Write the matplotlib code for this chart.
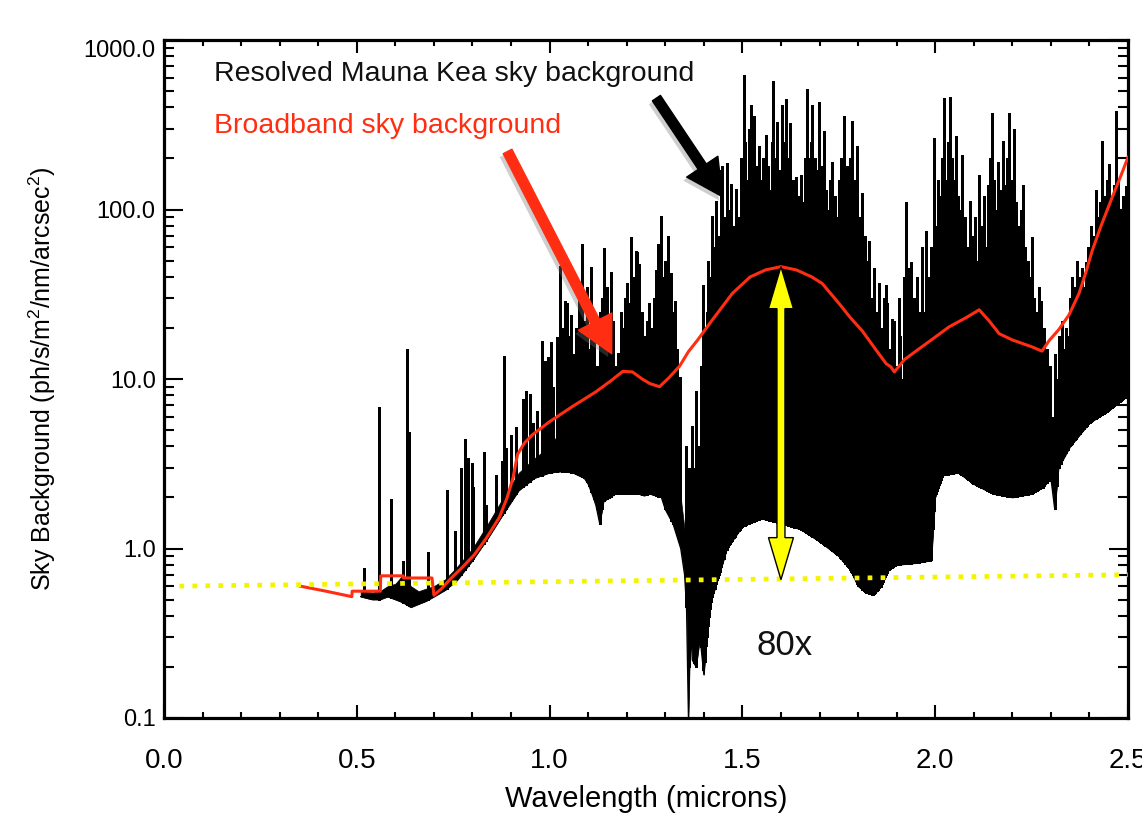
import numpy as np
import matplotlib.pyplot as plt
import matplotlib.patheffects as pe
from matplotlib.patches import FancyArrowPatch, Polygon
from matplotlib.ticker import MultipleLocator, LogLocator, NullFormatter
from matplotlib.transforms import IdentityTransform

plt.rcParams['font.family'] = ['Liberation Sans', 'DejaVu Sans']
plt.rcParams['mathtext.fontset'] = 'custom'
plt.rcParams['mathtext.rm'] = 'Liberation Sans'
plt.rcParams['mathtext.it'] = 'Liberation Sans:italic'

# resolved sky spectrum: lower envelope and top of the blended part
sky_wl = [0.51, 0.54, 0.56, 0.58, 0.60, 0.62, 0.64, 0.66, 0.68, 0.70, 0.73, 0.76, 0.80, 0.84,
          0.88, 0.92, 0.96, 1.00, 1.03, 1.06, 1.09, 1.10, 1.11, 1.12, 1.13, 1.14, 1.17, 1.20,
          1.23, 1.245, 1.26, 1.29, 1.30, 1.32, 1.34, 1.35, 1.355, 1.36, 1.365, 1.37, 1.38,
          1.39, 1.40, 1.41, 1.42, 1.44, 1.46, 1.50, 1.55, 1.60, 1.65, 1.70, 1.75, 1.78, 1.80,
          1.82, 1.84, 1.86, 1.88, 1.90, 1.95, 1.99, 2.00, 2.02, 2.06, 2.10, 2.15, 2.20, 2.25,
          2.28, 2.30, 2.31, 2.32, 2.35, 2.40, 2.45, 2.50]
sky_lo = [0.52, 0.50, 0.50, 0.52, 0.50, 0.48, 0.45, 0.47, 0.49, 0.52, 0.57, 0.65, 0.85, 1.15,
          1.6, 2.2, 2.6, 2.8, 2.85, 2.8, 2.6, 2.4, 2.1, 1.8, 1.4, 1.9, 2.1, 2.1,
          2.1, 2.05, 2.1, 2.0, 1.7, 1.4, 1.0, 0.7, 0.45, 0.1, 0.35, 0.22, 0.2,
          0.3, 0.18, 0.35, 0.5, 0.7, 1.0, 1.35, 1.5, 1.4, 1.3, 1.1, 0.9, 0.75, 0.6,
          0.55, 0.53, 0.6, 0.75, 0.8, 0.82, 0.85, 2.0, 2.7, 2.8, 2.4, 2.1, 2.0, 2.1,
          2.3, 2.6, 1.7, 3.0, 4.0, 5.5, 6.5, 8.0]
sky_hi = [0.56, 0.55, 0.56, 0.60, 0.62, 0.70, 0.60, 0.56, 0.58, 0.60, 0.66, 0.78, 1.0, 1.4,
          2.0, 2.8, 3.4, 4.0, 5.0, 5.0, 4.5, 4.0, 3.0, 2.5, 2.2, 3.5, 4.0, 4.0,
          4.0, 2.8, 4.0, 5.0, 4.0, 3.0, 2.0, 1.3, 0.9, 0.7, 0.7, 0.7, 0.9,
          1.1, 1.6, 2.2, 3.0, 4.0, 6.0, 8.0, 10.0, 10.0, 9.0, 6.0, 4.0, 3.0, 2.5,
          2.0, 1.8, 1.8, 2.0, 2.0, 2.0, 1.8, 4.0, 6.0, 7.0, 6.0, 5.0, 4.0, 3.5,
          3.5, 3.8, 2.5, 5.0, 8.0, 12.0, 16.0, 20.0]

# strong emission lines (wavelength, peak)
line_wl = [0.518, 0.557, 0.588, 0.620, 0.630, 0.635, 0.684, 0.733, 0.754, 0.769, 0.780, 0.788,
           0.798, 0.802, 0.829, 0.834, 0.862, 0.877, 0.881, 0.888, 0.900, 0.914, 0.930, 0.938,
           0.948, 0.958, 0.968, 0.979, 0.987, 0.995,
           1.003, 1.010, 1.018, 1.020, 1.028, 1.033, 1.039, 1.044, 1.050, 1.056, 1.062, 1.068,
           1.075, 1.083, 1.085, 1.090, 1.096, 1.102, 1.108, 1.115, 1.122, 1.130, 1.136, 1.142,
           1.148, 1.153, 1.158, 1.165, 1.170, 1.177, 1.185, 1.190, 1.196, 1.202, 1.207, 1.212,
           1.218, 1.223, 1.226, 1.233, 1.240, 1.247, 1.253, 1.259, 1.265, 1.270, 1.277, 1.282,
           1.285, 1.290, 1.296, 1.300, 1.306, 1.311, 1.316, 1.320, 1.324, 1.330, 1.337,
           1.355, 1.362, 1.368, 1.375, 1.380, 1.388, 1.393, 1.399, 1.405, 1.410, 1.416, 1.422,
           1.428, 1.432, 1.437, 1.445, 1.448, 1.453, 1.459, 1.465, 1.470, 1.477, 1.484, 1.490,
           1.496,
           1.503, 1.508, 1.513, 1.518, 1.523, 1.527, 1.531, 1.536, 1.542, 1.548, 1.553, 1.558,
           1.562, 1.567, 1.572, 1.576, 1.580, 1.585, 1.590, 1.596, 1.603, 1.608, 1.613, 1.618,
           1.624, 1.630, 1.635, 1.640, 1.646, 1.652, 1.657, 1.662, 1.668, 1.673, 1.677, 1.681,
           1.687, 1.693, 1.699, 1.705, 1.712, 1.718, 1.724, 1.728, 1.733, 1.740, 1.745, 1.750,
           1.757, 1.764, 1.770, 1.775, 1.780, 1.785, 1.790, 1.798, 1.804, 1.811, 1.818, 1.823,
           1.829, 1.835, 1.842, 1.848, 1.855, 1.862, 1.868, 1.873, 1.876, 1.882, 1.889, 1.894,
           1.900, 1.905, 1.910, 1.918, 1.925, 1.930, 1.938, 1.945, 1.952, 1.958, 1.966, 1.976,
           1.982, 1.990, 1.997, 2.003, 2.008, 2.012, 2.018, 2.023, 2.028, 2.033, 2.039, 2.044,
           2.050, 2.055, 2.060, 2.065, 2.070, 2.076, 2.082, 2.090, 2.096, 2.102, 2.108, 2.114,
           2.120, 2.126, 2.131, 2.137, 2.142, 2.148, 2.153, 2.158, 2.163, 2.170, 2.176, 2.182,
           2.187, 2.192, 2.198, 2.205, 2.210, 2.216, 2.222, 2.228, 2.234, 2.240, 2.245, 2.251,
           2.257, 2.263, 2.270, 2.275, 2.282, 2.290, 2.298,
           2.310, 2.320, 2.330, 2.340, 2.350, 2.355, 2.362, 2.368, 2.375, 2.382, 2.390, 2.397,
           2.405, 2.410, 2.417, 2.422, 2.428, 2.433, 2.440, 2.445, 2.451, 2.458, 2.464, 2.469,
           2.475, 2.482, 2.488, 2.495]
line_peak = [0.77, 6.8, 1.95, 0.84, 15.0, 4.9, 0.96, 2.2, 1.26, 3.0, 4.4, 3.4,
             3.2, 2.3, 3.7, 1.8, 2.7, 3.3, 13.7, 3.9, 4.7, 5.2, 7.6, 8.5,
             8.2, 5.5, 6.5, 16.8, 12.8, 13.5,
             16.5, 9, 17.7, 15.5, 46.6, 20, 29, 28, 18, 24, 14, 20,
             30, 63, 50, 22, 35, 15, 46, 20, 12, 25, 30, 59,
             35, 18, 43, 22, 12, 14.3, 25, 20, 30, 37, 28, 69,
             40, 57, 56, 48, 25, 18, 22, 28, 20, 30, 44, 63,
             60, 91, 40, 50, 70, 35, 42, 25, 29, 15, 10.3,
             4, 3, 5.3, 3, 8.5, 4, 12, 36, 20, 50, 30, 91,
             60, 113, 70, 172, 180, 90, 188, 100, 142, 80, 133, 90,
             200,
             620, 250, 150, 300, 415, 200, 355, 180, 238, 150, 200, 120,
             275, 180, 130, 250, 570, 200, 330, 170, 415, 250, 450, 200,
             324, 150, 100, 155, 120, 160, 110, 200, 515, 200, 250, 415,
             200, 170, 430, 180, 290, 130, 100, 150, 190, 120, 90, 150,
             200, 355, 180, 120, 200, 335, 150, 238, 90, 125, 70, 50,
             65, 30, 45, 25, 37, 20, 30, 36, 28, 15, 22.6, 22,
             12, 30, 18, 40, 110, 45, 49, 30, 40, 25, 60, 75,
             40, 60, 265, 80, 150, 120, 200, 455, 150, 250, 460, 200,
             150, 270, 120, 100, 210, 90, 60, 113, 70, 90, 50, 160,
             80, 120, 60, 140, 200, 370, 150, 100, 190, 130, 253, 140,
             200, 370, 150, 300, 110, 80, 100, 140, 60, 50, 40, 69,
             30, 25, 35, 29, 20, 15, 12,
             14, 18, 22, 20, 30, 40, 35, 50, 40, 45, 49, 60,
             80, 70, 130, 90, 110, 253, 120, 150, 185, 120, 140, 380,
             150, 98, 120, 137]

# weaker lines filling the H and K bands
weak_wl = [1.402, 1.407, 1.413, 1.419, 1.425, 1.430, 1.435, 1.440, 1.442, 1.451, 1.456, 1.462,
           1.468, 1.473, 1.480, 1.487, 1.493, 1.499,
           1.5055, 1.5105, 1.5155, 1.5205, 1.525, 1.529, 1.5335, 1.539, 1.545, 1.5505, 1.5555,
           1.560, 1.5645, 1.5695, 1.574, 1.578, 1.5825, 1.5875, 1.593, 1.5995, 1.6055, 1.6105,
           1.6155, 1.621, 1.627, 1.6325, 1.6375, 1.643, 1.649, 1.6545, 1.6595, 1.665, 1.6705,
           1.675, 1.679, 1.684, 1.690, 1.696, 1.702, 1.7085, 1.715, 1.721, 1.726, 1.7305,
           1.7365, 1.7425, 1.7475, 1.7535, 1.7605, 1.767, 1.7725, 1.7775, 1.7825, 1.7875, 1.794,
           1.801, 1.8075, 1.8145, 1.8205, 1.826, 1.832, 1.8385, 1.845, 1.8515, 1.8585, 1.865,
           1.8705, 1.879, 1.885, 1.8915, 1.897,
           1.903, 1.908, 1.914, 1.921, 1.928, 1.934, 1.941, 1.948, 1.955, 1.962, 1.971, 1.979,
           1.986, 1.994,
           2.0055, 2.0105, 2.015, 2.0205, 2.0255, 2.0305, 2.036, 2.0415, 2.047, 2.0525, 2.0575,
           2.0625, 2.0675, 2.073, 2.079, 2.086, 2.093, 2.099, 2.105, 2.111, 2.117, 2.123,
           2.1285, 2.134, 2.1395, 2.145, 2.1505, 2.1555, 2.1605, 2.1665, 2.173, 2.179, 2.1845,
           2.1895, 2.195, 2.2015, 2.2075, 2.213, 2.219, 2.225, 2.231, 2.237, 2.2425, 2.248,
           2.254, 2.260, 2.2665, 2.2725, 2.2785, 2.286, 2.294,
           2.305, 2.315, 2.325, 2.335, 2.345, 2.3525, 2.3585, 2.365, 2.3715, 2.3785, 2.386,
           2.3935, 2.401, 2.4075, 2.4135, 2.4195, 2.425, 2.4305, 2.4365, 2.4425, 2.448, 2.4545,
           2.461, 2.4665, 2.472, 2.4785, 2.485, 2.4915, 2.498]
weak_peak = [15, 25, 20, 40, 35, 45, 40, 50, 60, 50, 70, 60,
             50, 60, 50, 45, 60, 80,
             80, 60, 90, 100, 70, 90, 60, 80, 60, 70, 50,
             80, 60, 50, 70, 100, 60, 80, 60, 90, 70, 100,
             60, 80, 50, 40, 50, 40, 50, 35, 50, 80, 60,
             70, 90, 60, 50, 80, 50, 60, 40, 30, 40, 45,
             35, 30, 40, 45, 60, 40, 35, 45, 50, 30, 40,
             25, 30, 20, 15, 18, 10, 12, 8, 10, 8, 10,
             12, 8, 10, 8, 6,
             8, 12, 10, 20, 25, 20, 15, 20, 12, 18, 25, 20,
             15, 30,
             60, 50, 70, 80, 60, 70, 90, 70, 60, 80, 50,
             45, 60, 40, 35, 45, 40, 35, 30, 45, 35, 40,
             30, 40, 50, 70, 45, 40, 50, 40, 60, 45, 50,
             70, 40, 60, 35, 25, 30, 35, 20, 18, 15, 20,
             12, 10, 12, 10, 8, 7, 6,
             6, 10, 12, 15, 18, 22, 28, 30, 30, 32, 35,
             40, 45, 50, 60, 55, 60, 80, 70, 75, 80, 70,
             75, 90, 80, 70, 60, 70, 80]

# broadband (smoothed) sky background
broad_wl = [0.353, 0.42, 0.487, 0.488, 0.561, 0.562, 0.620, 0.621, 0.695, 0.700, 0.720, 0.745,
            0.775, 0.805, 0.837, 0.870, 0.890, 0.905, 0.917, 0.935, 0.956, 1.00, 1.06, 1.12,
            1.16, 1.19, 1.215, 1.24, 1.26, 1.285, 1.31, 1.337, 1.36, 1.384, 1.42, 1.474, 1.52,
            1.56, 1.60, 1.64, 1.68, 1.707, 1.75, 1.78, 1.811, 1.845, 1.873, 1.885, 1.894, 1.92,
            1.95, 1.99, 2.036, 2.08, 2.114, 2.14, 2.166, 2.20, 2.25, 2.277, 2.295, 2.32, 2.347,
            2.373, 2.39, 2.407, 2.43, 2.459, 2.48, 2.50]
broad_val = [0.60, 0.56, 0.52, 0.56, 0.56, 0.69, 0.69, 0.67, 0.67, 0.53, 0.58, 0.67,
             0.78, 0.92, 1.16, 1.53, 2.0, 2.6, 3.6, 4.2, 4.7, 5.6, 6.9, 8.4,
             9.8, 11.1, 11.0, 10.0, 9.4, 9.0, 10.2, 11.9, 14.5, 17.0, 22.0, 32.0, 40.0,
             44.0, 46.0, 44.0, 40.0, 36.6, 28.0, 23.0, 19.2, 15.0, 12.3, 11.8, 11.0, 13.0,
             14.6, 17.0, 20.3, 23.0, 25.6, 22.0, 18.5, 17.0, 15.5, 14.6, 16.8, 19.5, 23.9,
             32.0, 42.0, 57.0, 80.0, 118.0, 155.0, 203.0]

# dark-sky (no OH) level
dark_wl = [0.04, 2.50]
dark_val = [0.60, 0.70]

gain_wl = 1.60
gain_lo, gain_hi = 0.655, 46.0

x_ticks = [0.0, 0.5, 1.0, 1.5, 2.0, 2.5]
x_labels = ['0.0', '0.5', '1.0', '1.5', '2.0', '2.5']
y_ticks = [0.1, 1.0, 10.0, 100.0, 1000.0]
y_labels = ['0.1', '1.0', '10.0', '100.0', '1000.0']

red = '#ff2e12'

fig = plt.figure(figsize=(11.42, 8.18), dpi=100)
ax = fig.add_axes([164 / 1142, 100 / 818, 964 / 1142, 678 / 818])
ax.set_yscale('log')
ax.set_xlim(0, 2.5)
ax.set_ylim(0.1, 1000)

ax.fill_between(sky_wl, sky_lo, sky_hi, color='black', lw=0.5, zorder=2)
ax.plot(sky_wl, sky_lo, color='black', lw=0.9, zorder=2)
ax.vlines(line_wl, np.interp(line_wl, sky_wl, sky_lo), line_peak, color='black', lw=0.75,
          antialiased=False, zorder=2)
ax.vlines(weak_wl, np.interp(weak_wl, sky_wl, sky_lo), weak_peak, color='black', lw=0.75,
          antialiased=False, zorder=2)

ax.plot(broad_wl, broad_val, color=red, lw=2.2, zorder=3)
ax.plot(dark_wl, dark_val, color='#f4f400', lw=3.4, ls=(0, (1, 1.75)),
        dash_capstyle='butt', zorder=4)

# yellow double arrow, drawn in pixel space
xp, yt = ax.transData.transform((gain_wl, gain_hi))
_, yb = ax.transData.transform((gain_wl, gain_lo))
sw, hw, hl = 4, 12.5, 42
pts = [(xp, yt), (xp + hw, yt - hl), (xp + sw, yt - hl), (xp + sw, yb + hl), (xp + hw, yb + hl),
       (xp, yb), (xp - hw, yb + hl), (xp - sw, yb + hl), (xp - sw, yt - hl), (xp - hw, yt - hl)]
ax.add_patch(Polygon(pts, closed=True, transform=IdentityTransform(), facecolor='#ffff00',
                     edgecolor='black', lw=1.0, zorder=6))

shadow = [pe.SimplePatchShadow(offset=(-2.5, -2.5), shadow_rgbFace='0.45', alpha=0.35), pe.Normal()]
style = 'simple,head_length=2.6,head_width=2.7,tail_width=0.7'
a1 = FancyArrowPatch((1.277, 454), (1.448, 119), arrowstyle=style, mutation_scale=10,
                     color='black', shrinkA=0, shrinkB=0, zorder=7)
a2 = FancyArrowPatch((0.891, 220), (1.161, 14.1), arrowstyle=style, mutation_scale=10,
                     color=red, shrinkA=0, shrinkB=0, zorder=7)
for a in (a1, a2):
    a.set_path_effects(shadow)
    ax.add_patch(a)

ax.text(0.129, 572, 'Resolved Mauna Kea sky background', fontsize=20.5, color='#111111',
        va='baseline', ha='left')
ax.text(0.129, 282, 'Broadband sky background', fontsize=20.5, color=red,
        va='baseline', ha='left')
ax.text(1.536, 0.236, '80x', fontsize=25, color='#111111', va='baseline', ha='left')

ax.set_xticks(x_ticks, labels=x_labels)
ax.xaxis.set_minor_locator(MultipleLocator(0.1))
ax.set_yticks(y_ticks, labels=y_labels)
ax.yaxis.set_minor_locator(LogLocator(base=10, subs=np.arange(2, 10)))
ax.yaxis.set_minor_formatter(NullFormatter())
ax.get_yticklabels()[-1].set_verticalalignment('top')
ax.tick_params(which='both', direction='in', top=True, right=True, width=1.5, color='black')
ax.tick_params(axis='x', which='major', length=9.5, labelsize=20, pad=21.5)
ax.tick_params(axis='x', which='minor', length=4.5)
ax.tick_params(axis='y', which='major', length=13.5, labelsize=17, pad=6)
ax.tick_params(axis='y', which='minor', length=7.5)
for s in ax.spines.values():
    s.set_linewidth(2.3)

ax.set_xlabel('Wavelength (microns)', fontsize=21)
ax.xaxis.set_label_coords(0.5, -0.099)
ax.set_ylabel(r'Sky Background (ph/s/m$^2$/nm/arcsec$^2$)', fontsize=18)
ax.yaxis.set_label_coords(-0.11, 0.5)

fig.savefig('out.png', dpi=100)
